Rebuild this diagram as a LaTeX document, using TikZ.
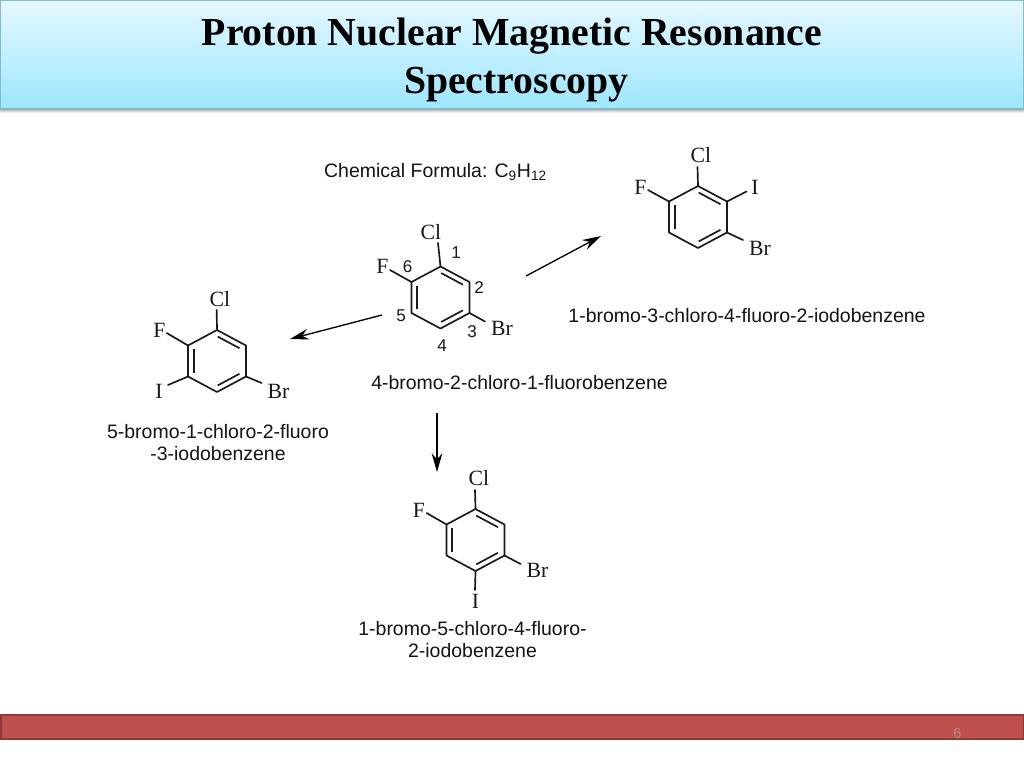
\documentclass[tikz,border=0pt]{standalone}
\usepackage{fontspec}
\setmainfont{Liberation Serif}
\newfontfamily\labelfont{Liberation Sans}
\usetikzlibrary{calc,arrows.meta}
\definecolor{headtop}{HTML}{E4F8FF}
\definecolor{headbot}{HTML}{9DE6FE}
\definecolor{headedge}{HTML}{7FBCCB}
\definecolor{footfill}{HTML}{BE514E}
\definecolor{footedge}{HTML}{8E3A38}
\definecolor{pagenum}{HTML}{B08A88}
\tikzset{
  bond/.style={line width=1.25pt,draw=black!90,line cap=round,line join=round},
  innerbond/.style={line width=1.25pt,draw=black!90,shorten <=0.6pt,shorten >=0.6pt},
  atom/.style={font=\fontsize{16.3}{17}\selectfont,inner sep=0pt,text=black!90},
  num/.style={font=\labelfont\fontsize{12.8}{14}\selectfont,inner sep=0pt,text=black!90},
  caption/.style={font=\labelfont\fontsize{14.6}{16.2}\selectfont,inner sep=0pt,align=center,text=black!92},
  react/.style={line width=1pt,draw=black,-{Stealth[length=14pt,width=8pt]}},
}
% ring: name, centre x, centre y, half-width, half-height
\newcommand{\benzring}[5]{%
  \coordinate (#1c) at (#2,#3);
  \coordinate (#1a) at (#2,#3-#5);
  \coordinate (#1b) at (#2+#4,#3-#5/2);
  \coordinate (#1d) at (#2+#4,#3+#5/2);
  \coordinate (#1e) at (#2,#3+#5);
  \coordinate (#1f) at (#2-#4,#3+#5/2);
  \coordinate (#1g) at (#2-#4,#3-#5/2);
  \draw[bond] (#1a)--(#1b)--(#1d)--(#1e)--(#1f)--(#1g)--cycle;
  \draw[innerbond] ($(#1c)!0.8!(#1a)$)--($(#1c)!0.8!(#1b)$);
  \draw[innerbond] ($(#1c)!0.8!(#1d)$)--($(#1c)!0.8!(#1e)$);
  \draw[innerbond] ($(#1c)!0.8!(#1f)$)--($(#1c)!0.8!(#1g)$);
}
\begin{document}
\begin{tikzpicture}[x=0.75pt,y=-0.75pt]
\useasboundingbox (0,0) rectangle (1024,768);
\fill[white] (0,0) rectangle (1024,768);
% header
\shade[top color=black!30,bottom color=white] (0,109) rectangle (1024,113);
\path[top color=headtop,bottom color=headbot,draw=headedge,line width=1pt] (0.5,0.5) rectangle (1023.5,109);
\node[font=\bfseries\fontsize{29.8}{36}\selectfont,align=center,inner sep=0pt] (title) at (512,59.5) {Proton Nuclear Magnetic Resonance\\\hspace*{6.5pt}Spectroscopy};
% footer
\path[fill=footfill,draw=footedge,line width=1.5pt] (0.5,714.5) rectangle (1023.5,739);
\node[font=\labelfont\fontsize{11}{12}\selectfont,text=pagenum,inner sep=0pt] (pagenumber) at (957.5,733) {6};
% formula
\node[caption] (formula) at (435.5,172) {Chemical Formula: C\textsubscript{9}H\textsubscript{12}};
% central molecule
\benzring{m}{440.5}{297.5}{29}{31}
\coordinate (mCl) at (438,243); \coordinate (mF) at (390,270); \coordinate (mBr) at (485,321.5);
\draw[bond] (ma)--(mCl); \draw[bond] (mg)--(mF); \draw[bond] (md)--(mBr);
\node[atom] (mClL) at (431,232) {Cl};
\node[atom] (mFL) at (382.5,266) {F};
\node[atom] (mBrL) at (502,328) {Br};
\node[num] (n1) at (456,253) {1};
\node[num] (n2) at (479,287.5) {2};
\node[num] (n3) at (472,332) {3};
\node[num] (n4) at (442,346) {4};
\node[num] (n5) at (401,316) {5};
\node[num] (n6) at (407.5,267) {6};
\node[caption] (mName) at (519.5,382.5) {4-bromo-2-chloro-1-fluorobenzene};
% top right molecule
\benzring{r}{698}{217}{29}{31}
\coordinate (rCl) at (697.5,167); \coordinate (rF) at (648,190); \coordinate (rI) at (746.5,191.5); \coordinate (rBr) at (743,240);
\draw[bond] (ra)--(rCl); \draw[bond] (rg)--(rF); \draw[bond] (rb)--(rI); \draw[bond] (rd)--(rBr);
\node[atom] (rClL) at (701,155.5) {Cl};
\node[atom] (rFL) at (640.5,187) {F};
\node[atom] (rIL) at (755,187) {I};
\node[atom] (rBrL) at (760,248) {Br};
\node[caption] (rName) at (747,316) {1-bromo-3-chloro-4-fluoro-2-iodobenzene};
% left molecule
\benzring{l}{217}{361}{29}{31}
\coordinate (lCl) at (216.7,310); \coordinate (lF) at (166.7,333); \coordinate (lI) at (168,385); \coordinate (lBr) at (261.7,383);
\draw[bond] (la)--(lCl); \draw[bond] (lg)--(lF); \draw[bond] (lf)--(lI); \draw[bond] (ld)--(lBr);
\node[atom] (lClL) at (220,299.5) {Cl};
\node[atom] (lFL) at (159.5,330.5) {F};
\node[atom] (lIL) at (159,391) {I};
\node[atom] (lBrL) at (278.5,391.5) {Br};
\node[caption] (lName) at (218,442.5) {5-bromo-1-chloro-2-fluoro\\-3-iodobenzene};
% bottom molecule
\benzring{b}{475.5}{540}{29}{31}
\coordinate (bCl) at (475,490); \coordinate (bF) at (426.7,513); \coordinate (bBr) at (520.7,564); \coordinate (bI) at (475,590);
\draw[bond] (ba)--(bCl); \draw[bond] (bg)--(bF); \draw[bond] (bd)--(bBr); \draw[bond] (be)--(bI);
\node[atom] (bClL) at (479,478.5) {Cl};
\node[atom] (bFL) at (419,510.5) {F};
\node[atom] (bBrL) at (537.5,570.5) {Br};
\node[atom] (bIL) at (475.5,601.5) {I};
\node[caption] (bName) at (472.5,639.5) {1-bromo-5-chloro-4-fluoro-\\2-iodobenzene};
% arrows
\coordinate (a1s) at (526,276); \coordinate (a1e) at (601,236);
\coordinate (a2s) at (382,315); \coordinate (a2e) at (290,339);
\coordinate (a3s) at (437,413); \coordinate (a3e) at (437,472);
\draw[react] (a1s)--(a1e);
\draw[react] (a2s)--(a2e);
\draw[react] (a3s)--(a3e);
\end{tikzpicture}
\end{document}
